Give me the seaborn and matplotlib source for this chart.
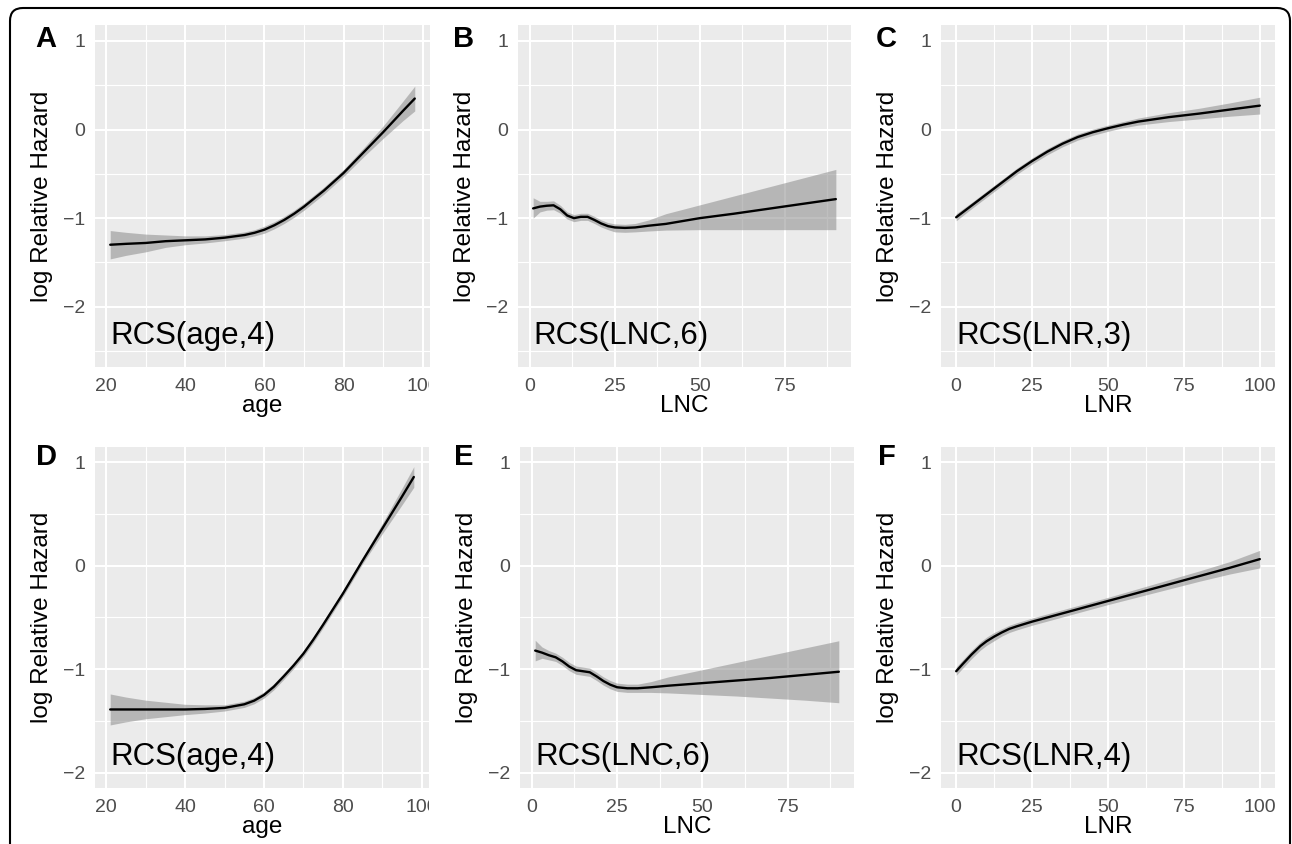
import matplotlib
matplotlib.use("Agg")
import matplotlib.pyplot as plt
import numpy as np
import pandas as pd
import seaborn as sns
from matplotlib.patches import FancyBboxPatch
from matplotlib.transforms import Bbox, TransformedBbox

# ---- data ----
age_x = [21, 25, 30, 35, 40, 45, 50, 55, 57.5, 60, 62.5, 65, 67.5, 70, 72.5, 75, 80, 85, 90, 95, 98]
a_fit = [-1.30, -1.29, -1.28, -1.26, -1.25, -1.24, -1.22, -1.19, -1.165, -1.13, -1.08, -1.02, -0.95,
         -0.87, -0.78, -0.69, -0.49, -0.26, -0.03, 0.21, 0.35]
a_lo = [-1.46, -1.42, -1.38, -1.33, -1.30, -1.28, -1.255, -1.225, -1.20, -1.17, -1.12, -1.06, -0.99,
        -0.91, -0.82, -0.73, -0.53, -0.31, -0.10, 0.10, 0.21]
a_hi = [-1.14, -1.16, -1.18, -1.19, -1.20, -1.20, -1.185, -1.155, -1.13, -1.09, -1.04, -0.98, -0.91,
        -0.83, -0.74, -0.65, -0.45, -0.21, 0.04, 0.32, 0.49]

lnc_x = [1, 3, 5, 7, 9, 11, 13, 15, 17, 19, 21, 23, 25, 28, 31, 35, 40, 50, 60, 70, 80, 90]
b_fit = [-0.89, -0.87, -0.86, -0.855, -0.90, -0.97, -1.00, -0.985, -0.985, -1.02, -1.06, -1.09,
         -1.105, -1.11, -1.105, -1.085, -1.065, -1.00, -0.95, -0.895, -0.84, -0.785]
b_lo = [-1.00, -0.93, -0.91, -0.905, -0.945, -1.01, -1.04, -1.025, -1.025, -1.06, -1.10, -1.13,
        -1.155, -1.16, -1.155, -1.145, -1.135, -1.13, -1.13, -1.13, -1.13, -1.13]
b_hi = [-0.77, -0.81, -0.81, -0.805, -0.855, -0.93, -0.96, -0.945, -0.945, -0.98, -1.02, -1.05,
        -1.065, -1.07, -1.06, -1.02, -0.95, -0.85, -0.75, -0.65, -0.55, -0.45]

lnr_x = [0, 5, 10, 15, 20, 25, 30, 35, 40, 45, 50, 55, 60, 70, 80, 90, 100]
c_fit = [-0.99, -0.86, -0.73, -0.60, -0.47, -0.355, -0.25, -0.16, -0.085, -0.03, 0.015, 0.055, 0.09, 0.14, 0.18, 0.225, 0.27]
c_lo = [-1.03, -0.895, -0.765, -0.635, -0.505, -0.39, -0.285, -0.195, -0.12, -0.065, -0.02, 0.02, 0.05, 0.09, 0.12, 0.15, 0.175]
c_hi = [-0.95, -0.825, -0.695, -0.565, -0.435, -0.32, -0.215, -0.125, -0.05, 0.005, 0.05, 0.09, 0.13, 0.19, 0.24, 0.30, 0.365]

d_fit = [-1.39, -1.39, -1.39, -1.39, -1.39, -1.385, -1.375, -1.34, -1.305, -1.25, -1.17, -1.07, -0.965,
         -0.85, -0.715, -0.57, -0.27, 0.05, 0.36, 0.67, 0.86]
d_lo = [-1.54, -1.51, -1.48, -1.46, -1.44, -1.425, -1.405, -1.37, -1.335, -1.28, -1.20, -1.10, -0.995,
        -0.88, -0.745, -0.60, -0.30, 0.02, 0.31, 0.59, 0.76]
d_hi = [-1.24, -1.27, -1.30, -1.32, -1.34, -1.345, -1.345, -1.31, -1.275, -1.22, -1.14, -1.04, -0.935,
        -0.82, -0.685, -0.54, -0.24, 0.08, 0.41, 0.75, 0.96]

e_fit = [-0.82, -0.84, -0.865, -0.885, -0.925, -0.975, -1.01, -1.02, -1.03, -1.07, -1.115, -1.15,
         -1.175, -1.185, -1.185, -1.175, -1.16, -1.135, -1.11, -1.085, -1.055, -1.025]
e_lo = [-0.92, -0.895, -0.91, -0.925, -0.965, -1.015, -1.05, -1.06, -1.07, -1.11, -1.155, -1.19,
        -1.215, -1.225, -1.225, -1.225, -1.23, -1.245, -1.26, -1.28, -1.30, -1.325]
e_hi = [-0.72, -0.785, -0.82, -0.845, -0.885, -0.935, -0.97, -0.98, -0.99, -1.03, -1.075, -1.11,
        -1.135, -1.145, -1.145, -1.12, -1.075, -1.005, -0.935, -0.865, -0.795, -0.725]

lnr4_x = [0, 2, 5, 8, 10, 12.5, 15, 17.5, 20, 25, 30, 40, 50, 60, 70, 80, 90, 100]
f_fit = [-1.02, -0.955, -0.86, -0.775, -0.73, -0.685, -0.645, -0.61, -0.585, -0.54, -0.50, -0.42,
         -0.34, -0.26, -0.18, -0.10, -0.02, 0.065]
f_lo = [-1.06, -0.995, -0.90, -0.815, -0.77, -0.725, -0.68, -0.645, -0.62, -0.575, -0.535, -0.455,
        -0.375, -0.30, -0.225, -0.15, -0.08, -0.02]
f_hi = [-0.98, -0.915, -0.82, -0.735, -0.69, -0.645, -0.61, -0.575, -0.55, -0.505, -0.465, -0.385,
        -0.305, -0.22, -0.135, -0.05, 0.04, 0.15]

panels = [
    ("A", age_x, a_fit, a_lo, a_hi, "age", "RCS(age,4)"),
    ("B", lnc_x, b_fit, b_lo, b_hi, "LNC", "RCS(LNC,6)"),
    ("C", lnr_x, c_fit, c_lo, c_hi, "LNR", "RCS(LNR,3)"),
    ("D", age_x, d_fit, d_lo, d_hi, "age", "RCS(age,4)"),
    ("E", lnc_x, e_fit, e_lo, e_hi, "LNC", "RCS(LNC,6)"),
    ("F", lnr4_x, f_fit, f_lo, f_hi, "LNR", "RCS(LNR,4)"),
]

sns.set_theme(style="darkgrid", rc={"axes.facecolor": "#EBEBEB"})
plt.rcParams["font.family"] = ["Liberation Sans", "DejaVu Sans"]

W, H = 1292, 844
fig = plt.figure(figsize=(W / 100, H / 100), dpi=100)
fig.patch.set_facecolor("white")

# pixel boxes (left, top, right, bottom)
boxes = [(95, 25, 430, 367), (518, 25, 851, 367), (941, 25, 1275, 367),
         (95, 447, 429, 788), (520, 447, 854, 788), (941, 447, 1275, 788)]
letter_pos = [(46, 39), (464, 39), (886, 39), (46, 457), (464, 457), (887, 457)]
xcfg = {
    "age": ((17.15, 101.85), [20, 40, 60, 80, 100], [30, 50, 70, 90]),
    "LNC": ((-3.45, 94.45), [0, 25, 50, 75], [12.5, 37.5, 62.5, 87.5]),
    "LNR": ((-5, 105), [0, 25, 50, 75, 100], [12.5, 37.5, 62.5, 87.5]),
}

for i, (letter, x, fit, lo, hi, var, note) in enumerate(panels):
    l, t, r, b = boxes[i]
    ax = fig.add_axes([l / W, 1 - b / H, (r - l) / W, (b - t) / H])
    df = pd.DataFrame({"x": x, "fit": fit, "lo": lo, "hi": hi})
    ax.fill_between(df["x"], df["lo"], df["hi"], color="#8c8c8c", alpha=0.55, lw=0, zorder=2)
    sns.lineplot(data=df, x="x", y="fit", ax=ax, color="black", lw=1.7, zorder=3)

    xlim, xmaj, xmin = xcfg[var]
    ax.set_xlim(*xlim)
    ax.set_xticks(xmaj)
    ax.set_xticks(xmin, minor=True)
    if i < 3:
        ax.set_ylim(-2.68, 1.18)
        ax.set_yticks([-2.5, -1.5, -0.5, 0.5], minor=True)
    else:
        ax.set_ylim(-2.15, 1.15)
        ax.set_yticks([-1.5, -0.5, 0.5], minor=True)
    ax.set_yticks([-2, -1, 0, 1])

    ax.grid(which="major", color="white", lw=1.5)
    ax.grid(which="minor", color="white", lw=0.8)
    for s in ax.spines.values():
        s.set_visible(False)
    ax.tick_params(which="major", length=4, width=1.2, color="#333333",
                   labelsize=14, labelcolor="#4D4D4D", pad=3)
    ax.tick_params(axis="x", which="major", pad=4)
    ax.tick_params(which="minor", length=0)

    ax.set_xlabel(var, fontsize=17.5, color="black")
    ax.set_ylabel("log Relative Hazard", fontsize=17.5, color="black")
    ax.xaxis.set_label_coords(0.5, -0.082)
    ax.yaxis.set_label_coords(-0.125, 0.5)

    ax.text(0.045, 0.09, note, transform=ax.transAxes, fontsize=22.5,
            ha="left", va="center", color="black", zorder=4)

    # the age axes cut their last tick label at the panel edge
    if var == "age":
        clip = TransformedBbox(Bbox.from_extents(0, 0, 429 / W, 1), fig.transFigure)
        for lbl in ax.get_xticklabels():
            lbl.set_clip_on(True)
            lbl.set_clip_box(clip)

    lx, ly = letter_pos[i]
    fig.text(lx / W, 1 - ly / H, letter, fontsize=21, fontweight="bold",
             color="black", ha="center", va="center")

# rounded frame round the whole figure, open at the bottom
frame = FancyBboxPatch((10 / W, -0.05), 1280 / W, 1.05 - 8 / H,
                       boxstyle="round,pad=0,rounding_size=0.01",
                       mutation_aspect=W / H, transform=fig.transFigure,
                       fill=False, ec="black", lw=1.5)
fig.patches.append(frame)

fig.savefig("out.png", dpi=100)
